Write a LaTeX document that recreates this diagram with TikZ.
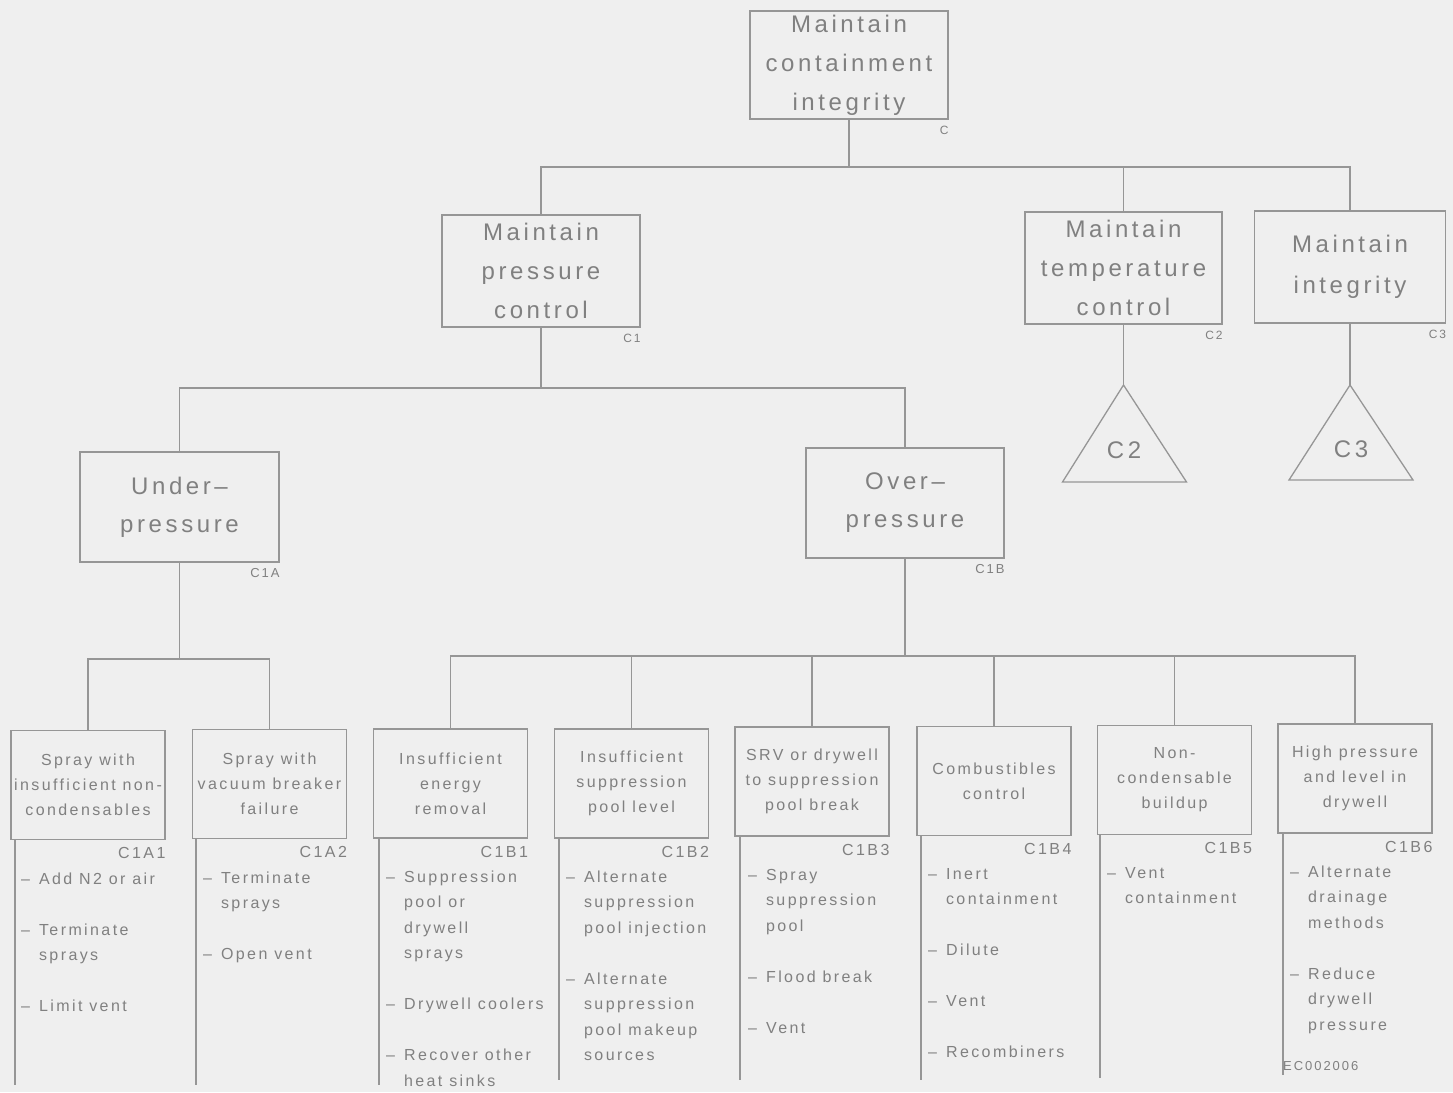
\documentclass[tikz,border=0pt]{standalone}
\usepackage{fontspec}
\setmainfont[LetterSpace=15]{Liberation Sans}
\definecolor{bgc}{RGB}{239,239,239}
\definecolor{linec}{RGB}{150,150,150}
\definecolor{textc}{RGB}{128,128,128}
\tikzset{
  bigbox/.style={draw=linec, line width=1.3pt, text=textc, align=center, inner sep=0pt,
    font=\fontsize{24}{39}\selectfont},
  smallbox/.style={draw=linec, line width=1.3pt, text=textc, align=center, inner sep=0pt,
    minimum width=154pt, minimum height=109pt, font=\fontsize{16}{25}\selectfont},
  conn/.style={draw=linec, line width=1.3pt},
  tag/.style={text=textc, inner sep=0pt, anchor=north east, font=\fontsize{16}{18}\selectfont},
  midtag/.style={text=textc, inner sep=0pt, anchor=north east, font=\fontsize{13}{15}\selectfont},
  toptag/.style={text=textc, inner sep=0pt, anchor=north east, font=\fontsize{12}{14}\selectfont},
  listtext/.style={text=textc, inner sep=0pt, anchor=base west, font=\fontsize{16}{25.5}\selectfont},
  tri/.style={draw=linec, line width=1.3pt},
  trilabel/.style={text=textc, inner sep=0pt, font=\fontsize{24}{28}\selectfont}
}
\begin{document}
\begin{tikzpicture}[x=1pt,y=-1pt]
\useasboundingbox[fill=bgc] (0,0) rectangle (1453,1092);

% top level
\node[bigbox, minimum width=198pt, minimum height=108pt] (C) at (849,65) {Maintain\\containment\\integrity};
\node[toptag] at ([yshift=-6.5pt]C.south east) {C};

% level 1
\node[bigbox, minimum width=198pt, minimum height=112pt] (C1) at (541,271) {Maintain\\pressure\\control};
\node[bigbox, minimum width=197pt, minimum height=112pt] (C2) at (1123.5,268) {Maintain\\temperature\\control};
\node[bigbox, minimum width=191pt, minimum height=112pt, font=\fontsize{24}{41}\selectfont] (C3) at (1350,267) {Maintain\\integrity};
\node[toptag] at ([yshift=-6.5pt]C1.south east) {C1};
\node[toptag] at ([yshift=-6.5pt]C2.south east) {C2};
\node[toptag] at ([yshift=-6.5pt]C3.south east) {C3};

% level 2
\node[bigbox, minimum width=199pt, minimum height=110pt, font=\fontsize{24}{38}\selectfont] (C1A) at (179.5,507) {Under--\\pressure};
\node[bigbox, minimum width=198pt, minimum height=110pt, font=\fontsize{24}{38}\selectfont] (C1B) at (905,503) {Over--\\pressure};
\node[midtag] at ([yshift=-6pt]C1A.south east) {C1A};
\node[midtag] at ([yshift=-6pt]C1B.south east) {C1B};

% triangles
\coordinate (T2a) at (1123.5,385);
\coordinate (T3a) at (1350,385);
\draw[tri] (T2a) -- ++(-61,97) -- ++(124,0) -- cycle;
\draw[tri] (T3a) -- ++(-61,95) -- ++(124,0) -- cycle;
\node[trilabel] (T2l) at (1124,450) {C2};
\node[trilabel] (T3l) at (1351,449) {C3};

% level 3
\node[smallbox] (B1) at (88,785) {Spray with\\insufficient non-\\condensables};
\node[smallbox] (B2) at (269.5,784) {Spray with\\vacuum breaker\\failure};
\node[smallbox] (B3) at (450.5,783.5) {Insufficient\\energy\\removal};
\node[smallbox] (B4) at (631.5,783.5) {Insufficient\\suppression\\pool level};
\node[smallbox] (B5) at (812,781.5) {SRV or drywell\\to suppression\\pool break};
\node[smallbox] (B6) at (994,781) {Combustibles\\control};
\node[smallbox] (B7) at (1174.5,780) {Non-\\condensable\\buildup};
\node[smallbox] (B8) at (1355,778.5) {High pressure\\and level in\\drywell};
\node[tag] at ([yshift=-7pt]B1.south east) {C1A1};
\node[tag] at ([yshift=-7pt]B2.south east) {C1A2};
\node[tag] at ([yshift=-7pt]B3.south east) {C1B1};
\node[tag] at ([yshift=-7pt]B4.south east) {C1B2};
\node[tag] at ([yshift=-7pt]B5.south east) {C1B3};
\node[tag] at ([yshift=-7pt]B6.south east) {C1B4};
\node[tag] at ([yshift=-7pt]B7.south east) {C1B5};
\node[tag] at ([yshift=-7pt]B8.south east) {C1B6};

% connectors
\coordinate (busC) at (849,167);
\draw[conn] (C.south) -- (busC);
\draw[conn] (C1.north) -- (C1.north |- busC) -- (C3.north |- busC) -- (C3.north);
\draw[conn] (C2.north) -- (C2.north |- busC);
\draw[conn] (C2.south) -- (T2a);
\draw[conn] (C3.south) -- (T3a);

\coordinate (busC1) at (541,388);
\draw[conn] (C1.south) -- (busC1);
\draw[conn] (C1A.north) -- (C1A.north |- busC1) -- (C1B.north |- busC1) -- (C1B.north);

\coordinate (busA) at (179.5,659);
\draw[conn] (C1A.south) -- (busA);
\draw[conn] (B1.north) -- (B1.north |- busA) -- (B2.north |- busA) -- (B2.north);

\coordinate (busB) at (905,656);
\draw[conn] (C1B.south) -- (busB);
\draw[conn] (B3.north) -- (B3.north |- busB) -- (B8.north |- busB) -- (B8.north);
\foreach \b in {B4,B5,B6,B7} \draw[conn] (\b.north) -- (\b.north |- busB);

% list stems
\coordinate (E1) at (15,1085);
\coordinate (E2) at (196,1085);
\coordinate (E3) at (379,1085);
\coordinate (E4) at (559,1080);
\coordinate (E5) at (740,1080);
\coordinate (E6) at (921,1080);
\coordinate (E7) at (1100,1078);
\coordinate (E8) at (1283,1075);
\foreach \b/\e in {B1/E1,B2/E2,B3/E3,B4/E4,B5/E5,B6/E6,B7/E7,B8/E8}
  \draw[conn] (\b.south west -| \e) -- (\e);

% lists
\node[listtext] (L1) at (21,884) {\begin{tabular}[t]{@{}l@{\hspace{9pt}}l@{}}
– & Add N2 or air\\[25.5pt]
– & Terminate\\ & sprays\\[25.5pt]
– & Limit vent\end{tabular}};
\node[listtext] (L2) at (203,883) {\begin{tabular}[t]{@{}l@{\hspace{9pt}}l@{}}
– & Terminate\\ & sprays\\[25.5pt]
– & Open vent\end{tabular}};
\node[listtext] (L3) at (386,882) {\begin{tabular}[t]{@{}l@{\hspace{9pt}}l@{}}
– & Suppression\\ & pool or\\ & drywell\\ & sprays\\[25.5pt]
– & Drywell coolers\\[25.5pt]
– & Recover other\\ & heat sinks\end{tabular}};
\node[listtext] (L4) at (566,882) {\begin{tabular}[t]{@{}l@{\hspace{9pt}}l@{}}
– & Alternate\\ & suppression\\ & pool injection\\[25.5pt]
– & Alternate\\ & suppression\\ & pool makeup\\ & sources\end{tabular}};
\node[listtext] (L5) at (748,880) {\begin{tabular}[t]{@{}l@{\hspace{9pt}}l@{}}
– & Spray\\ & suppression\\ & pool\\[25.5pt]
– & Flood break\\[25.5pt]
– & Vent\end{tabular}};
\node[listtext] (L6) at (928,879) {\begin{tabular}[t]{@{}l@{\hspace{9pt}}l@{}}
– & Inert\\ & containment\\[25.5pt]
– & Dilute\\[25.5pt]
– & Vent\\[25.5pt]
– & Recombiners\end{tabular}};
\node[listtext] (L7) at (1107,878) {\begin{tabular}[t]{@{}l@{\hspace{9pt}}l@{}}
– & Vent\\ & containment\end{tabular}};
\node[listtext] (L8) at (1290,877) {\begin{tabular}[t]{@{}l@{\hspace{9pt}}l@{}}
– & Alternate\\ & drainage\\ & methods\\[25.5pt]
– & Reduce\\ & drywell\\ & pressure\end{tabular}};
\node[text=textc, inner sep=0pt, anchor=west, font=\fontsize{13}{15}\selectfont] (code) at (1283,1066) {EC002006};
\end{tikzpicture}
\end{document}
